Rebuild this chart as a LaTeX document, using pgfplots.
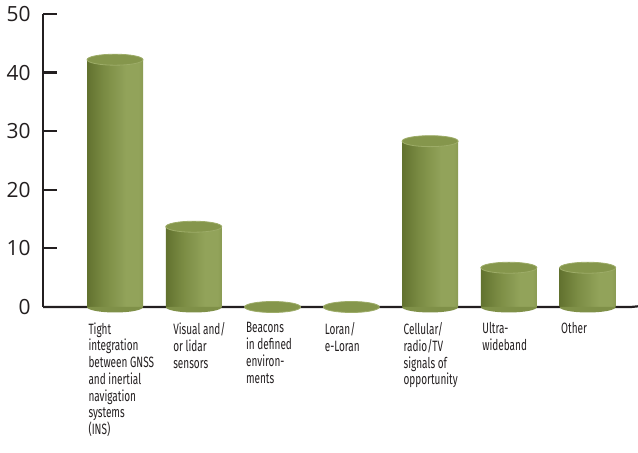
\documentclass[border=0pt]{standalone}
\usepackage{pgfplots}
\usepackage{pgfplotstable}
\pgfplotsset{compat=1.18}
\usepackage{fontspec}
\setmainfont{Fira Sans}
\newfontfamily\labfont[FakeStretch=0.67]{Fira Sans}
\newfontfamily\tickfont{Open Sans}

\definecolor{cdark}{HTML}{62722F}
\definecolor{cmid}{HTML}{7A8B43}
\definecolor{clight}{HTML}{92A35A}
\definecolor{cedge}{HTML}{8A9B53}
\definecolor{ctop}{HTML}{85964C}
\definecolor{crim}{HTML}{9DAC68}
\definecolor{cbot}{HTML}{7F9048}
\definecolor{axcol}{HTML}{231F20}

\pgfdeclarehorizontalshading{cyl}{100bp}{color(0bp)=(cdark); color(25bp)=(cdark); color(40bp)=(cmid); color(60bp)=(clight); color(71bp)=(clight); color(75bp)=(cedge); color(100bp)=(cedge)}

\pgfdeclareplotmark{cylend}{%
  \pgfpathellipse{\pgfpointorigin}{\pgfqpoint{28bp}{0pt}}{\pgfqpoint{0pt}{5.5bp}}%
  \pgfusepathqfillstroke}
\pgfdeclareplotmark{cylbot}{%
  \pgfpathmoveto{\pgfqpoint{-28bp}{0pt}}%
  \pgfpatharc{180}{360}{28bp and 5.5bp}%
  \pgfpathclose
  \pgfusepathqfill}

\pgfplotstableread{
x v
0 42.2
1 13.7
2 0
3 0
4 28.3
5 6.7
6 6.7
}\datatable

\pgfplotsset{cylbar/.style={ybar, bar width=56bp, bar shift=0pt, draw=none, shading=cyl}}

\begin{document}
\begin{tikzpicture}[x=1bp,y=1bp]
\useasboundingbox (0,0) rectangle (638,453);
\begin{axis}[
  at={(43bp,146bp)}, anchor=south west,
  scale only axis, width=588bp, height=293bp,
  xmin=-0.914, xmax=6.55, ymin=0, ymax=50,
  axis x line*=bottom, axis y line*=left,
  axis line style={line width=2.2bp, color=axcol},
  x axis line style={draw=none},
  ytick={0,10,...,50},
  ytick style={line width=2.2bp, color=axcol},
  major tick length=14bp, tick align=inside,
  xtick={0,...,6}, xtick style={draw=none},
  xticklabels={
    {Tight\\integration\\between GNSS\\and inertial\\navigation\\systems\\(INS)},
    {\hspace*{6bp}Visual and/\\\hspace*{6bp}or lidar\\\hspace*{6bp}sensors},
    {Beacons\\in defined\\environ-\\ments},
    {Loran/\\e-Loran},
    {Cellular/\\radio/TV\\signals of\\opportunity},
    {Ultra-\\wideband},
    {Other}},
  xticklabel style={font=\labfont\fontsize{15}{16.8}\selectfont, align=left,
    anchor=north west, xshift=-30bp, yshift=-12bp, text=axcol},
  yticklabel style={font=\tickfont\fontsize{21}{21}\selectfont, text=axcol, xshift=-9bp},
  /pgf/number format/assume math mode=true,
  clip=false,
]
% x axis line with its small closing tick (under the cylinders)
\draw[line width=2.2bp, color=axcol] (rel axis cs:0,0) -- (rel axis cs:1,0) -- ++(0,7bp);
% bottom ends of cylinders
\addplot[only marks, mark=cylbot, mark options={fill=cbot}]
  coordinates {(0,0) (1,0) (4,0) (5,0) (6,0)};
% cylinder bodies, one path each so each gets its own shading
\addplot[cylbar] coordinates {(0,42.2)};
\addplot[cylbar] coordinates {(1,13.7)};
\addplot[cylbar] coordinates {(4,28.3)};
\addplot[cylbar] coordinates {(5,6.7)};
\addplot[cylbar] coordinates {(6,6.7)};
% top ends of cylinders
\addplot[only marks, mark=cylend, mark options={fill=ctop, draw=crim, line width=0.8bp}]
  table[x=x, y=v] {\datatable};
\end{axis}
\end{tikzpicture}
\end{document}
